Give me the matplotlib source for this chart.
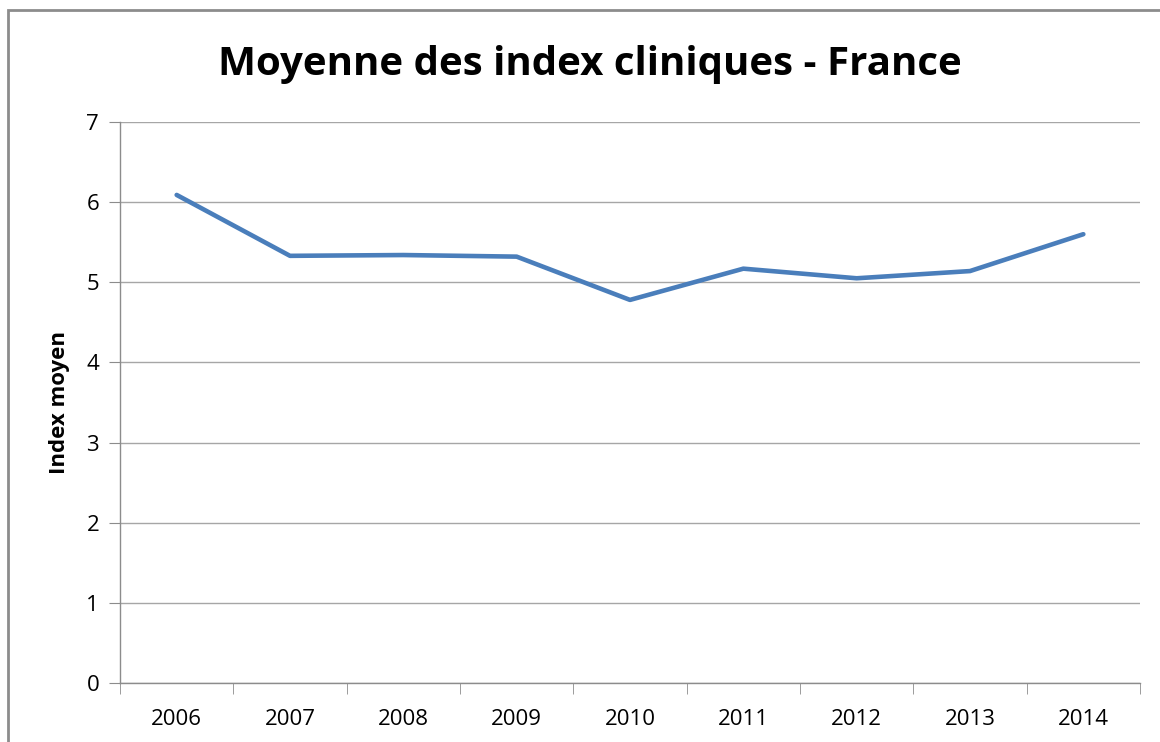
import matplotlib
matplotlib.use("Agg")
import matplotlib.pyplot as plt
from matplotlib.patches import Rectangle

years = ["2006", "2007", "2008", "2009", "2010", "2011", "2012", "2013", "2014"]
index_moyen = [6.09, 5.33, 5.34, 5.32, 4.78, 5.17, 5.05, 5.14, 5.60]

plt.rcParams['font.family'] = ['Open Sans', 'DejaVu Sans']

fig = plt.figure(figsize=(11.6, 7.42), dpi=100)
ax = fig.add_axes([120 / 1160, 59 / 742, 1020 / 1160, 561 / 742])

x = range(len(years))
ax.plot(x, index_moyen, color="#4a7ebb", linewidth=3.3, solid_capstyle="round", solid_joinstyle="round")

ax.set_xlim(-0.5, len(years) - 0.5)
ax.set_ylim(0, 7)
ax.set_yticks(range(0, 8))
ax.set_xticks(list(x))
ax.set_xticklabels(years)
ax.set_xticks([i - 0.5 for i in range(len(years) + 1)], minor=True)

ax.grid(axis="y", color="#a6a6a6", linewidth=1)
ax.set_axisbelow(True)
for s in ["top", "right"]:
    ax.spines[s].set_visible(False)
for s in ["left", "bottom"]:
    ax.spines[s].set_color("#8c8c8c")
    ax.spines[s].set_linewidth(1)

ax.tick_params(axis="x", which="major", length=0, pad=19, labelsize=16)
ax.tick_params(axis="x", which="minor", length=8, color="#8c8c8c")
ax.tick_params(axis="y", length=8, color="#8c8c8c", labelsize=16, pad=7)

ax.set_ylabel("Index moyen", fontsize=16, fontweight="bold", labelpad=12)
fig.text(590 / 1160, 1 - 64 / 742, "Moyenne des index cliniques - France",
         ha="center", va="center", fontsize=29, fontweight="bold")

fig.patches.append(Rectangle((8 / 1160, -0.1), 1.2, (742 - 10) / 742 + 0.1,
                             transform=fig.transFigure, fill=False,
                             edgecolor="#8c8c8c", linewidth=2))

fig.savefig("out.png", dpi=100)
